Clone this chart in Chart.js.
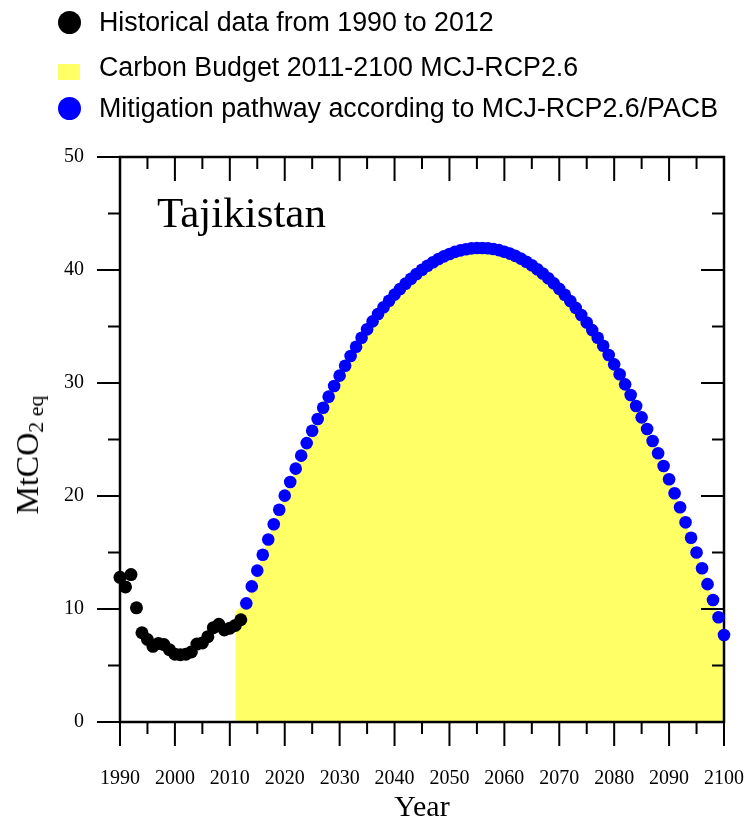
<!DOCTYPE html>
<html>
<head>
<meta charset="utf-8">
<script src="https://cdn.jsdelivr.net/npm/chart.js@4.4.0/dist/chart.umd.min.js"></script>
<style>
  body { margin: 0; background: #fff; }
  #wrap { position: relative; width: 746px; height: 820px; }
  #chart { position: absolute; left: 0; top: 0; }
  .leg-text { position: absolute; left: 99px; font-family: "Liberation Sans", Arial, sans-serif; font-size: 26.8px; line-height: 30px; color: #000; white-space: nowrap; }
  .dot { position: absolute; width: 23px; height: 23px; border-radius: 50%; }
  .country { position: absolute; left: 157px; top: 191px; font-family: "Liberation Serif", "Times New Roman", serif; font-size: 43px; line-height: 43px; white-space: nowrap; }
  .ytitle { position: absolute; left: 29px; top: 455px; transform: translate(-50%, -50%) rotate(-90deg); font-family: "Liberation Serif", "Times New Roman", serif; font-size: 32px; white-space: nowrap; }
  .ytitle sub { font-size: 22px; vertical-align: -5px; }
</style>
</head>
<body>
<div id="wrap">
  <canvas id="chart" width="746" height="820"></canvas>
  <div class="dot" style="left:58px; top:11px; background:#000;"></div>
  <div class="leg-text" style="top:7px;">Historical data from 1990 to 2012</div>
  <div style="position:absolute; left:58px; top:64px; width:22px; height:16px; background:#ffff66;"></div>
  <div class="leg-text" style="top:52px;">Carbon Budget 2011-2100 MCJ-RCP2.6</div>
  <div class="dot" style="left:58px; top:97px; background:#0000ff;"></div>
  <div class="leg-text" style="top:93px;">Mitigation pathway according to MCJ-RCP2.6/PACB</div>
  <div class="country">Tajikistan</div>
  <div class="ytitle">MtCO<sub>2 eq</sub></div>
</div>
<script>
// historical emissions 1990-2012
const histYears = [1990, 1991, 1992, 1993, 1994, 1995, 1996, 1997, 1998, 1999, 2000, 2001,
    2002, 2003, 2004, 2005, 2006, 2007, 2008, 2009, 2010, 2011, 2012];
const histValues = [12.8, 11.95, 13.05, 10.1, 7.9, 7.3, 6.7, 6.95, 6.85, 6.4, 6.0, 5.95,
    6.0, 6.2, 6.9, 7.0, 7.55, 8.35, 8.65, 8.15, 8.3, 8.55, 9.05];

// mitigation pathway 2013-2100, one value per year
const pathStart = 2013;
const pathValues = [
    10.5, 12.0, 13.4, 14.8, 16.15, 17.5, 18.78, 20.03, 21.24, 22.42,
    23.57, 24.68, 25.77, 26.81, 27.81, 28.79, 29.73, 30.65, 31.53, 32.39,
    33.21, 34.0, 34.75, 35.45, 36.1, 36.7, 37.28, 37.82, 38.32, 38.79,
    39.23, 39.64, 40.02, 40.37, 40.69, 40.97, 41.21, 41.42, 41.6, 41.74,
    41.84, 41.91, 41.95, 41.95, 41.92, 41.86, 41.76, 41.62, 41.45, 41.25,
    41.01, 40.73, 40.42, 40.07, 39.69, 39.27, 38.82, 38.33, 37.81, 37.25,
    36.65, 36.02, 35.36, 34.68, 34.0, 33.3, 32.48, 31.65, 30.77, 29.88,
    28.94, 27.96, 26.96, 25.93, 24.87, 23.78, 22.65, 21.48, 20.24, 19.0,
    17.67, 16.3, 15.0, 13.6, 12.2, 10.8, 9.27, 7.7
];

// carbon budget area starts in 2011, then follows the pathway
const budgetLeadYears = [2011, 2012];
const budgetLeadValues = [9.8, 10.15];

// axis ticks
const xMajor = [1990, 2000, 2010, 2020, 2030, 2040, 2050, 2060, 2070, 2080, 2090, 2100];
const xMinor = [1995, 2005, 2015, 2025, 2035, 2045, 2055, 2065, 2075, 2085, 2095];
const yMajor = [0, 10, 20, 30, 40, 50];
const yMinor = [5, 15, 25, 35, 45];

const histData = histYears.map((y, i) => ({ x: y, y: histValues[i] }));
const pathData = pathValues.map((v, i) => ({ x: pathStart + i, y: v }));
const budgetData = budgetLeadYears.map((y, i) => ({ x: y, y: budgetLeadValues[i] })).concat(pathData);

const frame = {
    id: "frame",
    afterDatasetDraw(chart, args) {
        if (args.index !== 2) return;
        const { ctx, chartArea: a, scales } = chart;
        const big = 23, small = 12;
        ctx.save();
        ctx.strokeStyle = "#000";
        ctx.lineWidth = 2;
        ctx.beginPath();
        xMajor.concat(xMinor).forEach((v) => {
            const px = scales.x.getPixelForValue(v);
            const len = xMajor.includes(v) ? big + 1 : small;
            ctx.moveTo(px, a.bottom); ctx.lineTo(px, a.bottom + len);
            ctx.moveTo(px, a.top); ctx.lineTo(px, a.top + len);
        });
        yMajor.concat(yMinor).forEach((v) => {
            const py = scales.y.getPixelForValue(v);
            const len = yMajor.includes(v) ? big : small;
            ctx.moveTo(a.left, py); ctx.lineTo(a.left - len, py);
            ctx.moveTo(a.right, py); ctx.lineTo(a.right - len, py);
        });
        ctx.stroke();
        ctx.lineWidth = 2.5;
        ctx.strokeRect(a.left, a.top, a.right - a.left, a.bottom - a.top);
        ctx.restore();
    }
};

new Chart(document.getElementById("chart"), {
    type: "scatter",
    data: {
        datasets: [
            {
                label: "Mitigation pathway according to MCJ-RCP2.6/PACB",
                data: pathData,
                backgroundColor: "#0000ff",
                pointRadius: 6.3,
                pointBorderWidth: 0,
                clip: false,
                order: 1
            },
            {
                label: "Historical data from 1990 to 2012",
                data: histData,
                backgroundColor: "#000",
                pointRadius: 6.5,
                pointBorderWidth: 0,
                clip: false,
                order: 2
            },
            {
                type: "line",
                label: "Carbon Budget 2011-2100 MCJ-RCP2.6",
                data: budgetData,
                backgroundColor: "#ffff66",
                borderWidth: 0,
                pointRadius: 0,
                fill: "origin",
                tension: 0,
                order: 3
            }
        ]
    },
    options: {
        responsive: false,
        animation: false,
        layout: { padding: { left: 0, right: 22, top: 157, bottom: 0 } },
        plugins: { legend: { display: false }, tooltip: { enabled: false } },
        scales: {
            x: {
                type: "linear",
                min: 1990,
                max: 2100,
                grid: { display: false, drawTicks: false },
                border: { display: false },
                afterFit: (s) => { s.height = 98; s.paddingLeft = 0; s.paddingRight = 0; },
                ticks: {
                    stepSize: 10,
                    autoSkip: false,
                    maxRotation: 0,
                    padding: 45,
                    color: "#000",
                    font: { family: "Liberation Serif", size: 20 },
                    callback: (v) => v
                },
                title: {
                    display: true,
                    text: "Year",
                    color: "#000",
                    padding: 0,
                    font: { family: "Liberation Serif", size: 30, lineHeight: 0.8 }
                }
            },
            y: {
                min: 0,
                max: 50,
                grid: { display: false, drawTicks: false },
                border: { display: false },
                afterFit: (s) => { s.width = 120; s.paddingTop = 0; s.paddingBottom = 0; },
                ticks: {
                    stepSize: 10,
                    padding: 36,
                    color: "#000",
                    font: { family: "Liberation Serif", size: 20 }
                }
            }
        }
    },
    plugins: [frame]
});
</script>
</body>
</html>
